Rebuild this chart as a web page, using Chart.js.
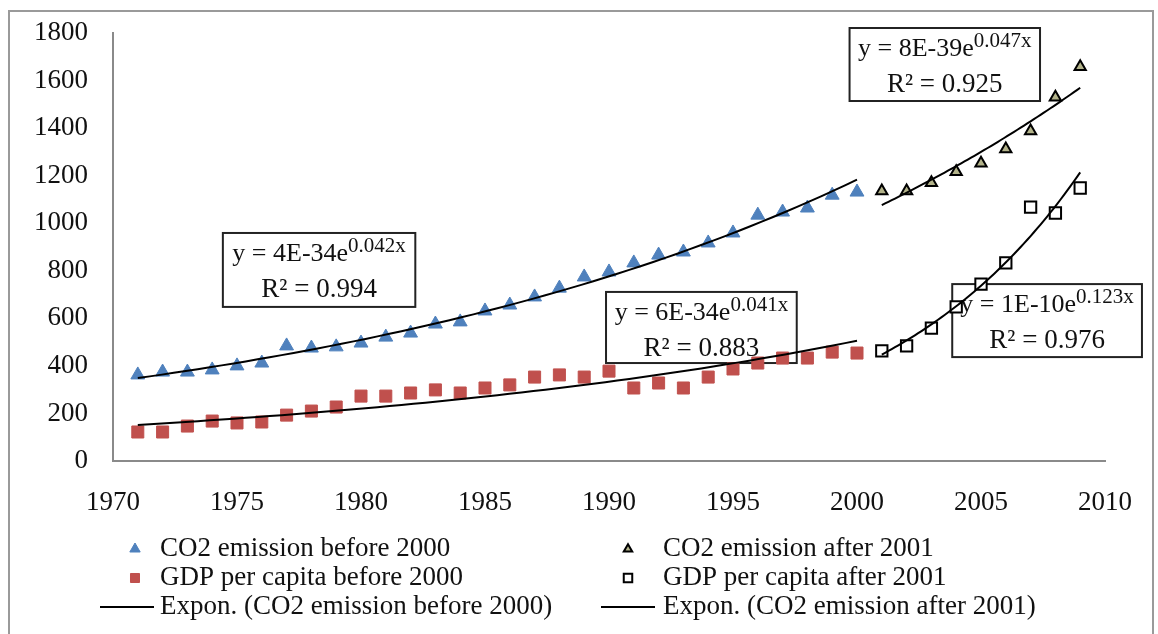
<!DOCTYPE html>
<html>
<head>
<meta charset="utf-8">
<script src="https://cdn.jsdelivr.net/npm/chart.js@4.4.0/dist/chart.umd.min.js"></script>
<style>
  html, body { margin: 0; padding: 0; background: #fff; }
  #wrap { width: 1158px; height: 634px; position: relative; }
</style>
</head>
<body>
<div id="wrap"><canvas id="chart" width="1158" height="634"></canvas></div>
<script>
// ---- data ----
const yearsBefore = [1971, 1972, 1973, 1974, 1975, 1976, 1977, 1978, 1979, 1980,
                     1981, 1982, 1983, 1984, 1985, 1986, 1987, 1988, 1989, 1990,
                     1991, 1992, 1993, 1994, 1995, 1996, 1997, 1998, 1999, 2000];
const co2Before = [362, 374, 374, 383, 400, 412, 484, 475, 480, 496,
                   521, 538, 576, 585, 631, 656, 690, 727, 774, 795,
                   833, 866, 879, 917, 959, 1034, 1047, 1064, 1118, 1131];
const gdpBefore = [122, 122, 147, 168, 160, 164, 193, 210, 227, 273,
                   273, 286, 299, 286, 307, 320, 353, 362, 353, 378,
                   307, 328, 307, 353, 387, 412, 433, 433, 458, 454];
const yearsAfter = [2001, 2002, 2003, 2004, 2005, 2006, 2007, 2008, 2009];
const co2After = [1135, 1135, 1170, 1216, 1252, 1312, 1388, 1530, 1658];
const gdpAfter = [463, 484, 559, 648, 744, 833, 1068, 1043, 1148];

const xTicks = [1970, 1975, 1980, 1985, 1990, 1995, 2000, 2005, 2010];
const yTicks = [0, 200, 400, 600, 800, 1000, 1200, 1400, 1600, 1800];

const seriesNames = ['CO2 emission before 2000', 'GDP per capita before 2000',
                     'CO2 emission after 2001', 'GDP per capita after 2001'];
const trendNames = ['Expon. (CO2 emission before 2000)', 'Expon. (GDP per capita before 2000)',
                    'Expon. (CO2 emission after 2001)', 'Expon. (GDP per capita after 2001)'];

// trendline equation labels: [coefficient, exponent, R²]
const eqCoef = ['4E-34', '6E-34', '8E-39', '1E-10'];
const eqExp  = ['0.042x', '0.041x', '0.047x', '0.123x'];
const eqR2   = ['0.994', '0.883', '0.925', '0.976'];
// label box corners in data units: [xLeft, yTop, xRight, yBottom]
const eqBoxes = [
  [1974.43, 959, 1982.19, 648],
  [1989.88, 711, 1997.57, 412],
  [1999.70, 1821, 2007.38, 1514],
  [2003.84, 744, 2011.49, 437]
];

// ---- exponential least-squares trend (fit of ln y on x) ----
function expFit(xs, ys) {
  const n = xs.length;
  let sx = 0, sy = 0, sxx = 0, sxy = 0;
  for (let i = 0; i < n; i++) {
    const ly = Math.log(ys[i]);
    sx += xs[i]; sy += ly; sxx += xs[i] * xs[i]; sxy += xs[i] * ly;
  }
  const b = (n * sxy - sx * sy) / (n * sxx - sx * sx);
  const lnA = (sy - b * sx) / n;
  return x => Math.exp(lnA + b * x);
}
function trendPoints(xs, ys) {
  const f = expFit(xs, ys);
  const pts = [];
  const x0 = xs[0], x1 = xs[xs.length - 1];
  const steps = 60;
  for (let i = 0; i <= steps; i++) {
    const x = x0 + (x1 - x0) * i / steps;
    pts.push({ x: x, y: f(x) });
  }
  return pts;
}
const toXY = (xs, ys) => xs.map((x, i) => ({ x: x, y: ys[i] }));

const SERIF = '"Liberation Serif", "Times New Roman", serif';
const BLUE = '#4f81bd', RED = '#c0504d';

function trendDataset(label, xs, ys) {
  return {
    label: label, data: trendPoints(xs, ys), showLine: true,
    borderColor: '#000', borderWidth: 2, pointRadius: 0, fill: false, order: 0
  };
}

// ---- decorations: outer frame, equation boxes, legend ----
const decorations = {
  id: 'decorations',
  beforeDraw(chart) {
    const ctx = chart.ctx;
    ctx.save();
    ctx.fillStyle = '#fff';
    ctx.fillRect(0, 0, chart.width, chart.height);
    ctx.strokeStyle = '#9a9a9a';
    ctx.lineWidth = 2;
    ctx.strokeRect(9, 11, 1144, 640);
    ctx.restore();
  },
  beforeDatasetsDraw(chart) {
    const ctx = chart.ctx;
    const xs = chart.scales.x, ys = chart.scales.y;
    ctx.save();
    eqBoxes.forEach((b, i) => {
      const l = xs.getPixelForValue(b[0]), t = ys.getPixelForValue(b[1]);
      const r = xs.getPixelForValue(b[2]), btm = ys.getPixelForValue(b[3]);
      ctx.fillStyle = '#fff';
      ctx.fillRect(l, t, r - l, btm - t);
      ctx.strokeStyle = '#222';
      ctx.lineWidth = 2;
      ctx.strokeRect(l, t, r - l, btm - t);

      const cx = (l + r) / 2;
      const main = 'y = ' + eqCoef[i] + 'e';
      ctx.fillStyle = '#111';
      ctx.textBaseline = 'alphabetic';
      ctx.font = '26px ' + SERIF;
      const wMain = ctx.measureText(main).width;
      ctx.font = '21px ' + SERIF;
      const wSup = ctx.measureText(eqExp[i]).width;
      const start = cx - (wMain + wSup) / 2;
      ctx.textAlign = 'left';
      ctx.font = '26px ' + SERIF;
      ctx.fillText(main, start, t + 28);
      ctx.font = '21px ' + SERIF;
      ctx.fillText(eqExp[i], start + wMain, t + 19);
      ctx.font = '27px ' + SERIF;
      ctx.textAlign = 'center';
      ctx.fillText('R\u00B2 = ' + eqR2[i], cx, t + 64);
    });
    ctx.restore();
  },
  afterDraw(chart) {
    const ctx = chart.ctx;
    ctx.save();
    ctx.font = '27px ' + SERIF;
    ctx.fillStyle = '#111';
    ctx.textAlign = 'left';
    ctx.textBaseline = 'middle';
    const rows = [549, 578, 607];
    const cols = [{ mark: 135, text: 160, l0: 100, l1: 154 },
                  { mark: 628, text: 663, l0: 601, l1: 655 }];
    const items = [
      [{ kind: 'pt', ds: 4, text: seriesNames[0] }, { kind: 'pt', ds: 6, text: seriesNames[2] }],
      [{ kind: 'pt', ds: 5, text: seriesNames[1] }, { kind: 'pt', ds: 7, text: seriesNames[3] }],
      [{ kind: 'line', text: trendNames[0] }, { kind: 'line', text: trendNames[2] }]
    ];
    items.forEach((row, ri) => {
      row.forEach((it, ci) => {
        const y = rows[ri], c = cols[ci];
        if (it.kind === 'pt') {
          const d = chart.data.datasets[it.ds];
          ctx.save();
          ctx.fillStyle = d.backgroundColor;
          ctx.strokeStyle = d.borderColor;
          ctx.lineWidth = d.borderWidth;
          Chart.helpers.drawPoint(ctx, {
            pointStyle: d.pointStyle, radius: d.pointRadius * 0.75,
            borderWidth: d.borderWidth, rotation: 0
          }, c.mark, y);
          ctx.restore();
        } else {
          ctx.beginPath();
          ctx.strokeStyle = '#000';
          ctx.lineWidth = 2;
          ctx.moveTo(c.l0, y);
          ctx.lineTo(c.l1, y);
          ctx.stroke();
        }
        ctx.fillStyle = '#111';
        ctx.fillText(it.text, c.text, y);
      });
    });
    ctx.restore();
  }
};

new Chart(document.getElementById('chart'), {
  type: 'scatter',
  data: {
    datasets: [
      trendDataset(trendNames[0], yearsBefore, co2Before),
      trendDataset(trendNames[1], yearsBefore, gdpBefore),
      trendDataset(trendNames[2], yearsAfter, co2After),
      trendDataset(trendNames[3], yearsAfter, gdpAfter),
      { label: seriesNames[0], data: toXY(yearsBefore, co2Before), pointStyle: 'triangle',
        pointRadius: 8, backgroundColor: BLUE, borderColor: BLUE, borderWidth: 1, order: 1 },
      { label: seriesNames[1], data: toXY(yearsBefore, gdpBefore), pointStyle: 'rect',
        pointRadius: 8.5, backgroundColor: RED, borderColor: RED, borderWidth: 1, order: 1 },
      { label: seriesNames[2], data: toXY(yearsAfter, co2After), pointStyle: 'triangle',
        pointRadius: 6.5, backgroundColor: '#b3b38a', borderColor: '#000', borderWidth: 2, order: 1 },
      { label: seriesNames[3], data: toXY(yearsAfter, gdpAfter), pointStyle: 'rect',
        pointRadius: 8, backgroundColor: '#fff', borderColor: '#000', borderWidth: 2, order: 1 }
    ]
  },
  options: {
    responsive: false,
    animation: false,
    layout: { padding: { left: 0, top: 33, right: 51, bottom: 0 } },
    plugins: { legend: { display: false }, tooltip: { enabled: false } },
    scales: {
      x: {
        type: 'linear', min: xTicks[0], max: xTicks[xTicks.length - 1],
        afterBuildTicks(scale) { scale.ticks = xTicks.map(v => ({ value: v })); },
        afterFit(scale) { scale.height = 173; },
        grid: { display: false, drawTicks: false },
        border: { display: true, color: '#8a8a8a', width: 2 },
        ticks: { padding: 26, color: '#111', font: { family: SERIF, size: 27 },
                 callback: v => String(v), maxRotation: 0, autoSkip: false }
      },
      y: {
        type: 'linear', min: yTicks[0], max: yTicks[yTicks.length - 1],
        afterBuildTicks(scale) { scale.ticks = yTicks.map(v => ({ value: v })); },
        afterFit(scale) {
          scale.width = 113;
          // the outer layout padding already leaves room for the top label
          scale.paddingTop = 0;
          scale.paddingBottom = 0;
        },
        grid: { display: false, drawTicks: false },
        border: { display: true, color: '#8a8a8a', width: 2 },
        ticks: { padding: 25, color: '#111', font: { family: SERIF, size: 27 },
                 callback: v => String(v), autoSkip: false }
      }
    }
  },
  plugins: [decorations]
});
</script>
</body>
</html>
